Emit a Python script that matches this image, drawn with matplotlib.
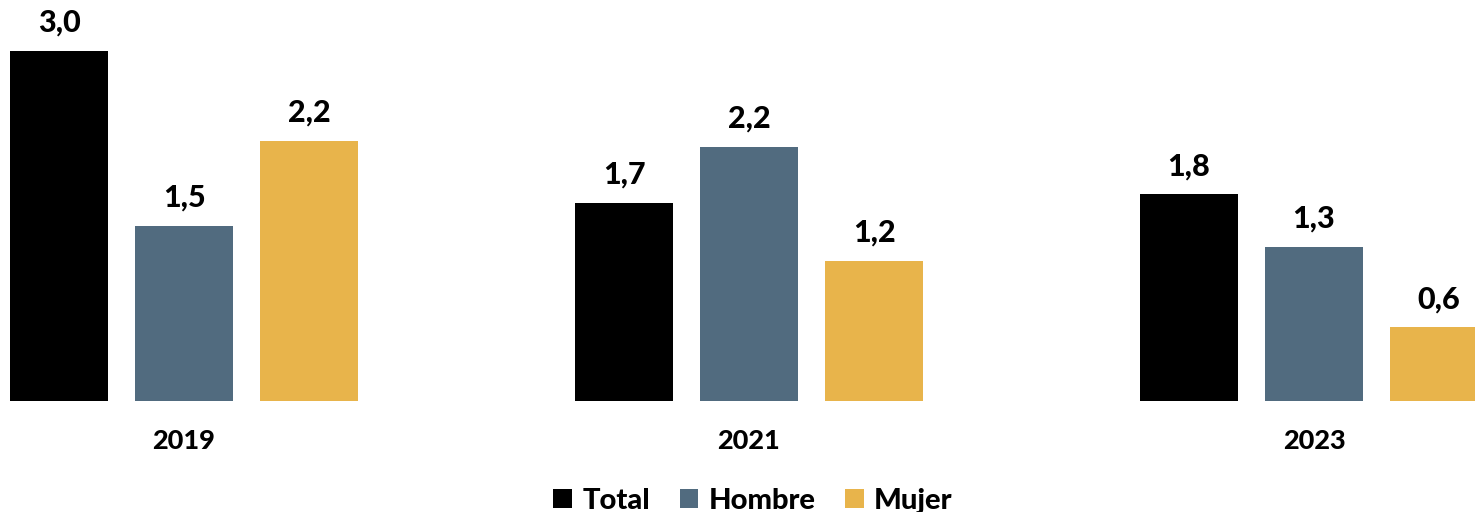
import matplotlib
matplotlib.use("Agg")
import matplotlib.pyplot as plt
import numpy as np

years = ["2019", "2021", "2023"]
series = ["Total", "Hombre", "Mujer"]
total = [3.0, 1.70, 1.77]
hombre = [1.50, 2.18, 1.32]
mujer = [2.23, 1.20, 0.63]
colors = ["#000000", "#516b7f", "#e8b44b"]

plt.rcParams['font.family'] = ['Lato', 'DejaVu Sans']

W, H = 1475, 512
fig = plt.figure(figsize=(W / 100, H / 100), dpi=100)
base_px = 401
ppu = 116.7
ax = fig.add_axes([0, (H - base_px) / H, 1, base_px / H])

x = np.arange(len(years))
off = 125 / 565
width = 98 / 565
for i, (vals, name, c) in enumerate(zip([total, hombre, mujer], series, colors)):
    pos = x + (i - 1) * off
    bars = ax.bar(pos, vals, width=width, color=c, label=name)
    for p, v in zip(pos, vals):
        ax.annotate(f"{v:.1f}".replace(".", ","), (p, v), xytext=(0, 14),
                    textcoords="offset pixels", ha="center", va="bottom",
                    fontsize=22, fontweight=900)

ax.set_xlim(-184 / 565, (W - 184) / 565)
ax.set_ylim(0, base_px / ppu)
ax.set_xticks(x)
ax.set_xticklabels(years, fontsize=19.5, fontweight=900)
ax.tick_params(axis="x", length=0, pad=20)
ax.set_yticks([])
for s in ax.spines.values():
    s.set_visible(False)

leg = fig.legend(loc="center", bbox_to_anchor=(753 / W, 1 - 501 / H), ncol=3,
                 frameon=False, prop={"size": 21, "weight": 900},
                 handlelength=0.65, handleheight=0.65, handletextpad=0.35,
                 columnspacing=1.0)

fig.savefig("out.png", dpi=100)
